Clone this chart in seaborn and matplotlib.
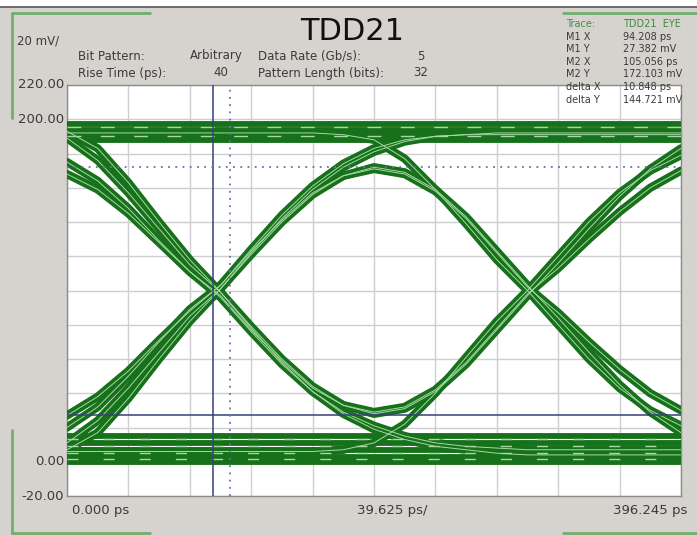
import numpy as np
import pandas as pd
import seaborn as sns
import matplotlib.pyplot as plt

# time samples (ps), half a division apart
t_ps = [0.0, 19.81, 39.62, 59.44, 79.25, 99.06, 118.87, 138.69, 158.50, 178.31, 198.12,
        217.93, 237.75, 257.56, 277.37, 297.18, 317.00, 336.81, 356.62, 376.43, 396.245]

# transition traces (mV)
fall_a = [193, 183, 163, 140, 118, 99, 78, 58, 41, 28, 19, 13, 9, 7, 5, 4, 4, 4, 4, 4, 4]
fall_b = [175, 164, 148, 129, 111, 96, 76, 57, 41, 29, 21, 15, 11, 9, 8, 7, 7, 7, 7, 7, 7]
dip_a = [189, 176, 157, 136, 115, 99, 79, 60, 44, 33, 28, 31, 41, 57, 77, 97, 116, 136, 155, 171, 183]
dip_b = [168, 159, 145, 128, 111, 97, 77, 59, 43, 33, 29, 32, 42, 58, 78, 98, 113, 130, 146, 160, 170]
peak_a = [11, 24, 43, 64, 85, 101, 121, 140, 156, 167, 172, 169, 159, 143, 123, 103, 84, 64, 45, 29, 17]
peak_b = [27, 38, 53, 71, 88, 103, 123, 141, 157, 167, 171, 168, 158, 142, 122, 102, 87, 70, 54, 40, 30]
rise_a = [7, 17, 37, 60, 82, 101, 122, 142, 159, 172, 181, 187, 190, 191, 192, 192, 192, 192, 192, 192, 192]
rise_b = [20, 32, 50, 70, 89, 103, 124, 144, 161, 174, 183, 188, 190, 191, 191, 191, 191, 191, 191, 191, 191]
fall2_a = [192, 192, 192, 192, 192, 192, 192, 192, 192, 191, 188, 177, 159, 139, 118, 100, 80, 60, 43, 30, 21]
rise2_a = [6, 6, 6, 6, 6, 6, 6, 6, 6, 7, 11, 22, 40, 61, 82, 100, 120, 140, 157, 170, 179]

# flat rails (mV)
hi_levels = [197, 194, 191, 188]
lo_levels = [15, 11, 7, 3, 0]
hi_streaks = [195.5, 190.5]
lo_streaks = [13, 9, 5, 1.5]

# marker readouts
m1_x, m1_y = 94.208, 27.382
m2_x, m2_y = 105.056, 172.103

x_max = 396.245
x_div = 39.6245
y_min, y_max = -20, 220

traces = {'fall_a': fall_a, 'fall_b': fall_b, 'dip_a': dip_a, 'dip_b': dip_b,
          'peak_a': peak_a, 'peak_b': peak_b, 'rise_a': rise_a, 'rise_b': rise_b,
          'fall2_a': fall2_a, 'rise2_a': rise2_a}
df = pd.concat([pd.DataFrame({'t': t_ps, 'mv': v, 'trace': k}) for k, v in traces.items()])

sns.set_theme(style='white')
plt.rcParams['font.family'] = ['DejaVu Sans']

bg = '#d6d3ce'
dark = '#17701a'
light = '#a6d8a6'
blue = '#34407a'
txt = '#3a3a3a'

fig = plt.figure(figsize=(6.97, 5.35), dpi=100, facecolor=bg)
W, H = 697, 535
ax = fig.add_axes([67 / W, 1 - 496 / H, 614 / W, 411 / H])
ax.set_facecolor('white')

# grid
ax.set_xlim(0, x_max)
ax.set_ylim(y_min, y_max)
ax.set_xticks(np.arange(0, x_max + 1, x_div))
ax.set_yticks(np.arange(y_min, y_max + 1, 20))
ax.grid(True, color='#cdcdd2', linewidth=1)
ax.tick_params(length=0, labelbottom=False, labelleft=False)
for s in ax.spines.values():
    s.set_color('#8c8c8c')
    s.set_linewidth(1)

# rails
ax.hlines(hi_levels, 0, x_max, color=dark, linewidth=4.2, zorder=3)
ax.hlines(lo_levels, 0, x_max, color=dark, linewidth=4.2, zorder=3)

# transitions
sns.lineplot(data=df, x='t', y='mv', units='trace', estimator=None, color=dark,
             linewidth=6, legend=False, ax=ax, zorder=4)
sns.lineplot(data=df, x='t', y='mv', units='trace', estimator=None, color=light,
             linewidth=0.7, legend=False, ax=ax, zorder=5)

ax.hlines(hi_streaks, 0, x_max, color=light, linewidth=1, linestyles=(0, (10, 14)), zorder=5)
ax.hlines(lo_streaks, 0, x_max, color=light, linewidth=1, linestyles=(0, (8, 18)), zorder=5)

# markers
ax.axvline(m1_x, color=blue, linewidth=1.1, zorder=6)
ax.axhline(m1_y, color=blue, linewidth=1.1, zorder=6)
ax.axvline(m2_x, color='#6a70a0', linewidth=1.3, linestyle=(0, (1, 3)), zorder=6)
ax.axhline(m2_y, color='#6a70a0', linewidth=1.3, linestyle=(0, (1, 3)), zorder=6)
ax.set_xlabel('')
ax.set_ylabel('')

# axis readouts
for val in [220, 200, 0, -20]:
    ax.text(-0.005, val, f'{val:.2f}', transform=ax.get_yaxis_transform(),
            ha='right', va='center', fontsize=9.5, color=txt)
ax.text(0.008, -0.035, '0.000 ps', transform=ax.transAxes, ha='left', va='center', fontsize=9.5, color=txt)
ax.text(0.529, -0.035, '39.625 ps/', transform=ax.transAxes, ha='center', va='center', fontsize=9.5, color=txt)
ax.text(1.01, -0.035, '396.245 ps', transform=ax.transAxes, ha='right', va='center', fontsize=9.5, color=txt)


def ftext(x, y, s, **kw):
    kw.setdefault('fontsize', 8.5)
    kw.setdefault('color', txt)
    kw.setdefault('va', 'center')
    fig.text(x / W, 1 - y / H, s, **kw)


# header
ftext(17, 41, '20 mV/')
ftext(352, 32, 'TDD21', fontsize=22, color='#111111', ha='center')
ftext(78, 56, 'Bit Pattern:')
ftext(243, 56, 'Arbitrary', ha='right')
ftext(258, 56, 'Data Rate (Gb/s):')
ftext(421, 56, '5', ha='center')
ftext(78, 73, 'Rise Time (ps):')
ftext(228, 73, '40', ha='right')
ftext(258, 73, 'Pattern Length (bits):')
ftext(421, 73, '32', ha='center')

labels = ['Trace:', 'M1 X', 'M1 Y', 'M2 X', 'M2 Y', 'delta X', 'delta Y']
values = ['TDD21  EYE', '94.208 ps', '27.382 mV', '105.056 ps', '172.103 mV', '10.848 ps', '144.721 mV']
for i, (lab, val) in enumerate(zip(labels, values)):
    y = 24 + i * 12.6
    ftext(566, y, lab, fontsize=7, color='#4a8a4a' if i == 0 else txt)
    ftext(623, y, val, fontsize=7, color='#3d8a3d' if i == 0 else txt)

# window frame
fig.add_artist(plt.Rectangle((0, 1 - 6 / H), 1, 6 / H, color='white', transform=fig.transFigure))
fig.add_artist(plt.Line2D([0, 1], [1 - 7 / H] * 2, color='#555555', linewidth=1.2))
green = '#6fae6f'
for xs, ys in [([12, 150], [13, 13]), ([12, 12], [13, 118]), ([12, 12], [430, 533]),
               ([12, 150], [533, 533]), ([563, 697], [13, 13]), ([563, 697], [533, 533])]:
    fig.add_artist(plt.Line2D([x / W for x in xs], [1 - y / H for y in ys], color=green, linewidth=2))

fig.savefig('out.png', dpi=100, facecolor=bg)
